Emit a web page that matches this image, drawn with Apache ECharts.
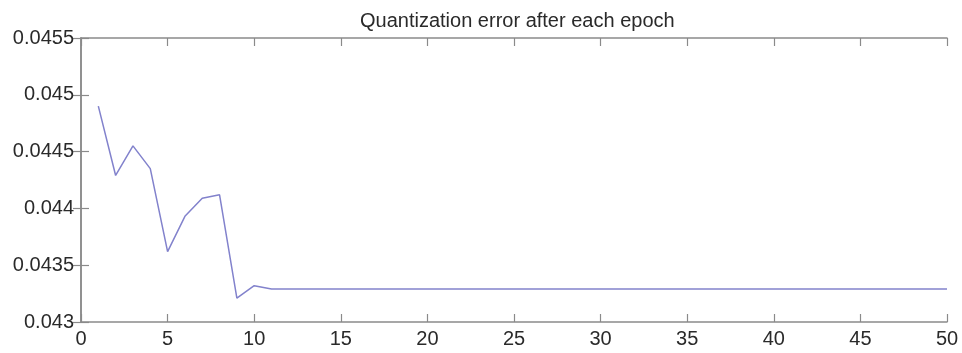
<!DOCTYPE html>
<html><head><meta charset="utf-8">
<script src="https://cdn.jsdelivr.net/npm/echarts@6/dist/echarts.min.js"></script>
<style>html,body{margin:0;padding:0;background:#fff}#c{width:962px;height:353px}</style>
</head><body><div id="c"></div>
<script>
var titleText = "Quantization error after each epoch";
var epochs = [1,2,3,4,5,6,7,8,9,10,11,12,13,14,15,16,17,18,19,20,21,22,23,24,25,26,27,28,29,30,31,32,33,34,35,36,37,38,39,40,41,42,43,44,45,46,47,48,49,50];
var qerr = [0.04490,0.04429,0.04455,0.04435,0.04362,0.04393,0.04409,0.04412,0.04321,0.04332,0.04329,
  0.04329,0.04329,0.04329,0.04329,0.04329,0.04329,0.04329,0.04329,0.04329,
  0.04329,0.04329,0.04329,0.04329,0.04329,0.04329,0.04329,0.04329,0.04329,0.04329,
  0.04329,0.04329,0.04329,0.04329,0.04329,0.04329,0.04329,0.04329,0.04329,0.04329,
  0.04329,0.04329,0.04329,0.04329,0.04329,0.04329,0.04329,0.04329,0.04329,0.04329];
var xTicks = [0,5,10,15,20,25,30,35,40,45,50];
var yTicks = [0.043,0.0435,0.044,0.0445,0.045,0.0455];

var pts = epochs.map(function(e,i){return [e,qerr[i]];});
function axisLine(){return {show:true, lineStyle:{color:'#8a8a8a', width:1.5}};}
function tick(){return {show:true, inside:true, length:8, lineStyle:{color:'#8a8a8a', width:1.2}};}
var font = 'Liberation Sans, Arial, sans-serif';
var chart = echarts.init(document.getElementById('c'));
chart.setOption({
  animation:false,
  title:{text:titleText, left:355, top:6, textStyle:{fontFamily:font, fontSize:20, fontWeight:'normal', color:'#2a2a2a'}},
  grid:{left:81, right:15, top:38, bottom:31, show:false},
  xAxis:[
    {type:'value', min:xTicks[0], max:xTicks[xTicks.length-1], interval:5, position:'bottom', axisLine:axisLine(), axisTick:tick(), splitLine:{show:false},
     axisLabel:{margin:7, fontFamily:font, fontSize:20, color:'#2a2a2a'}},
    {type:'value', min:xTicks[0], max:xTicks[xTicks.length-1], interval:5, position:'top', axisLine:axisLine(), axisTick:tick(), splitLine:{show:false}, axisLabel:{show:false}}
  ],
  yAxis:[
    {type:'value', min:yTicks[0], max:yTicks[yTicks.length-1], interval:0.0005, position:'left', axisLine:axisLine(), axisTick:tick(), splitLine:{show:false},
     axisLabel:{margin:7, fontFamily:font, fontSize:20, color:'#2a2a2a', formatter:function(v){return String(parseFloat(v.toFixed(4)));}}},
    {type:'value', min:yTicks[0], max:yTicks[yTicks.length-1], interval:0.0005, position:'right', axisLine:axisLine(), axisTick:tick(), splitLine:{show:false}, axisLabel:{show:false}}
  ],
  series:[{type:'line', data:pts, xAxisIndex:0, yAxisIndex:0, showSymbol:false, symbol:'none',
    lineStyle:{color:'#8282cc', width:1.5}}]
});
</script></body></html>
